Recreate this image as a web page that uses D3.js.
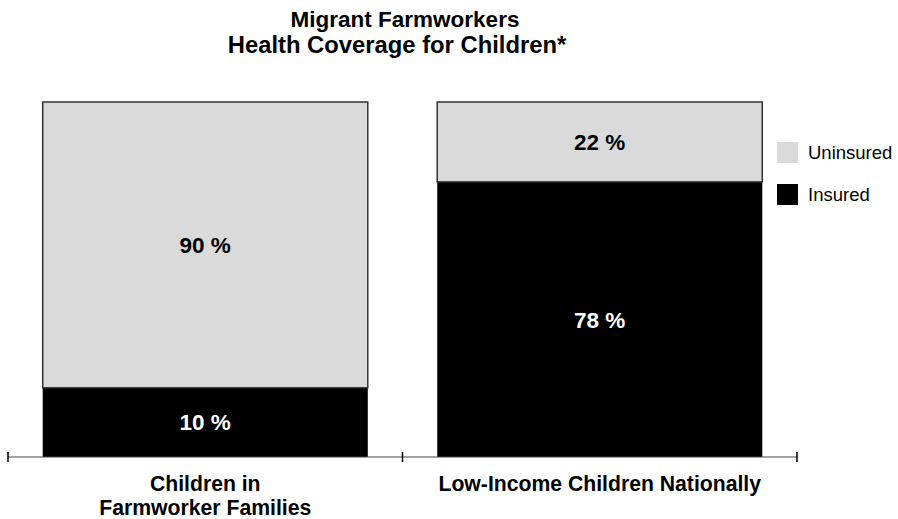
<!DOCTYPE html>
<html>
<head>
<meta charset="utf-8">
<script src="https://cdn.jsdelivr.net/npm/d3@7"></script>
<style>
  body { margin: 0; background: #fff; }
  svg { display: block; font-family: "Liberation Sans", Arial, Helvetica, sans-serif; }
</style>
</head>
<body>
<svg id="chart" width="898" height="519"></svg>
<script>
// categories and values
const categories = ["Children in Farmworker Families", "Low-Income Children Nationally"];
const categoryLines = [["Children in", "Farmworker Families"], ["Low-Income Children Nationally"]];
// shares as drawn in the picture (bar heights)
const insuredDrawn = [19.5, 77.5];
const uninsuredDrawn = [80.5, 22.5];
// shares as printed on the bars
const insuredLabels = ["10 %", "78 %"];
const uninsuredLabels = ["90 %", "22 %"];
const seriesNames = ["Uninsured", "Insured"];
const seriesColors = { Uninsured: "#d9dad9", Insured: "#000000" };
const titleLines = ["Migrant Farmworkers", "Health Coverage for Children*"];

const svg = d3.select("#chart");

const x = d3.scaleBand()
  .domain(categories)
  .range([8, 797])
  .paddingInner(0.176)
  .paddingOuter(0.088);

const y = d3.scaleLinear()
  .domain([0, 100])
  .range([457, 102]);

// Title (the two lines are not quite on the same centre in the original)
const titleX = [405, 397];
const titleSize = [22.5, 23.8];
svg.append("g").selectAll("text")
  .data(titleLines)
  .join("text")
  .attr("x", (d, i) => titleX[i])
  .attr("y", (d, i) => 27 + i * 26)
  .attr("text-anchor", "middle")
  .attr("font-weight", "bold")
  .attr("font-size", (d, i) => titleSize[i])
  .text(d => d);

// rows for stacking: insured at bottom, uninsured on top
const rows = categories.map((c, i) => ({
  cat: c,
  Insured: insuredDrawn[i],
  Uninsured: uninsuredDrawn[i],
  labels: { Insured: insuredLabels[i], Uninsured: uninsuredLabels[i] }
}));

const stack = d3.stack().keys(["Insured", "Uninsured"]);
const layers = stack(rows);

const bars = svg.append("g");
layers.forEach(layer => {
  const key = layer.key;
  bars.append("g").selectAll("rect")
    .data(layer)
    .join("rect")
    .attr("x", d => x(d.data.cat))
    .attr("y", d => y(d[1]))
    .attr("width", x.bandwidth())
    .attr("height", d => y(d[0]) - y(d[1]))
    .attr("fill", seriesColors[key])
    .attr("stroke", key === "Uninsured" ? "#333" : "none")
    .attr("stroke-width", 1.5);

  bars.append("g").selectAll("text")
    .data(layer)
    .join("text")
    .attr("x", d => x(d.data.cat) + x.bandwidth() / 2)
    .attr("y", d => (y(d[0]) + y(d[1])) / 2)
    .attr("dy", "0.36em")
    .attr("text-anchor", "middle")
    .attr("font-weight", "bold")
    .attr("font-size", 22.5)
    .attr("fill", key === "Insured" ? "#fff" : "#000")
    .text(d => d.data.labels[key]);
});

// X axis: baseline with ticks at the edges and between groups
const axisG = svg.append("g");
axisG.append("line")
  .attr("x1", x.range()[0]).attr("x2", x.range()[1])
  .attr("y1", y(0)).attr("y2", y(0))
  .attr("stroke", "#444").attr("stroke-width", 1.2);

const tickXs = [x.range()[0], (x(categories[0]) + x.bandwidth() + x(categories[1])) / 2, x.range()[1]];
axisG.selectAll("line.tick")
  .data(tickXs)
  .join("line")
  .attr("class", "tick")
  .attr("x1", d => d).attr("x2", d => d)
  .attr("y1", y(0) - 5).attr("y2", y(0) + 5)
  .attr("stroke", "#000").attr("stroke-width", 1.5);

// category labels
categories.forEach((c, i) => {
  axisG.append("g").selectAll("text")
    .data(categoryLines[i])
    .join("text")
    .attr("x", x(c) + x.bandwidth() / 2)
    .attr("y", (d, j) => 491 + j * 24)
    .attr("text-anchor", "middle")
    .attr("font-weight", "bold")
    .attr("font-size", 21.2)
    .text(d => d);
});

// Legend
const legend = svg.append("g").selectAll("g")
  .data(seriesNames)
  .join("g")
  .attr("transform", (d, i) => `translate(777, ${142 + i * 42})`);

legend.append("rect")
  .attr("width", 21).attr("height", 21)
  .attr("fill", d => seriesColors[d]);

legend.append("text")
  .attr("x", 31)
  .attr("y", 10.5)
  .attr("dy", "0.36em")
  .attr("font-size", 18.5)
  .text(d => d);
</script>
</body>
</html>
